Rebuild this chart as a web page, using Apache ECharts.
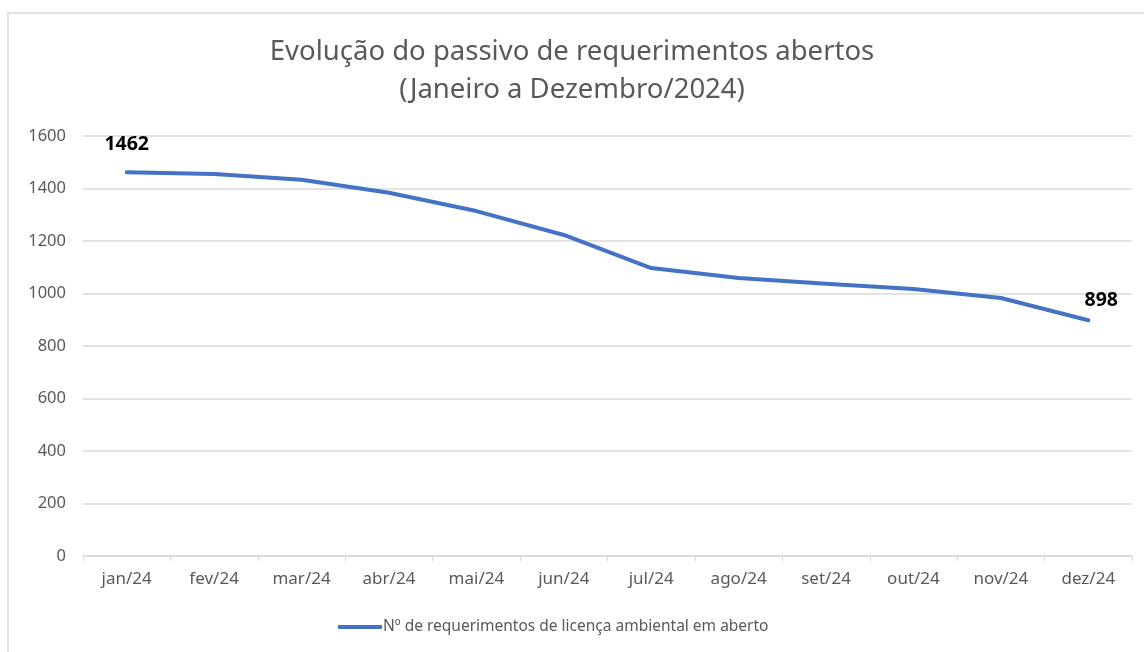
<!DOCTYPE html>
<html>
<head>
<meta charset="utf-8">
<script src="https://cdn.jsdelivr.net/npm/echarts@6/dist/echarts.min.js"></script>
<style>
  html, body { margin: 0; padding: 0; background: #fff; }
  #chart { width: 1144px; height: 652px; }
</style>
</head>
<body>
<div id="chart"></div>
<script>
  const meses = ['jan/24', 'fev/24', 'mar/24', 'abr/24', 'mai/24', 'jun/24', 'jul/24', 'ago/24', 'set/24', 'out/24', 'nov/24', 'dez/24']
  const requerimentos = [1462, 1455, 1433, 1384, 1314, 1223, 1097, 1059, 1037, 1017, 983, 898]
  const serieNome = 'Nº de requerimentos de licença ambiental em aberto'
  const yTicks = { min: 0, max: 1600, interval: 200 }

  const fonte = '"Noto Sans", "Open Sans", sans-serif'
  const ultimo = requerimentos.length - 1
  const azul = '#4472c4'

  // rótulo só no primeiro e no último mês
  const pontos = requerimentos.map((v, i) => ({
    value: v,
    label: {
      show: i === 0 || i === ultimo,
      offset: i === ultimo ? [13, 8] : [0, 0]
    }
  }))

  const chart = echarts.init(document.getElementById('chart'))
  const option = {
    backgroundColor: '#fff',
    graphic: [{
      type: 'rect',
      shape: { x: 8, y: 13, width: 1150, height: 660 },
      style: { fill: 'none', stroke: '#d9d9d9', lineWidth: 1.5 },
      silent: true
    }],
    title: {
      text: 'Evolução do passivo de requerimentos abertos\n(Janeiro a Dezembro/2024)',
      left: 'center',
      top: 28,
      textStyle: {
        fontFamily: fonte,
        fontWeight: 'normal',
        fontSize: 27.5,
        lineHeight: 38,
        color: '#595959'
      }
    },
    legend: {
      bottom: 12,
      left: 333,
      itemWidth: 44,
      itemHeight: 4,
      itemGap: 0,
      icon: 'roundRect',
      data: [serieNome],
      itemStyle: { color: azul },
      textStyle: { fontFamily: fonte, fontSize: 15.5, color: '#595959', padding: [0, 0, 0, -4] }
    },
    grid: {
      left: 83,
      right: 12,
      top: 136,
      bottom: 96
    },
    xAxis: {
      type: 'category',
      data: meses,
      boundaryGap: true,
      axisLine: { lineStyle: { color: '#d9d9d9', width: 1.5 } },
      axisTick: { show: true, length: 5, lineStyle: { color: '#d9d9d9' } },
      axisLabel: { fontFamily: fonte, fontSize: 17, color: '#595959', margin: 15 }
    },
    yAxis: {
      type: 'value',
      min: yTicks.min,
      max: yTicks.max,
      interval: yTicks.interval,
      axisLine: { show: false },
      axisTick: { show: false },
      axisLabel: { fontFamily: fonte, fontSize: 16.5, color: '#595959', margin: 17, formatter: (v) => String(v) },
      splitLine: { lineStyle: { color: '#d9d9d9', width: 1.5 } }
    },
    series: [{
      name: serieNome,
      type: 'line',
      data: pontos,
      symbol: 'circle',
      symbolSize: 1,
      showSymbol: true,
      showAllSymbol: true,
      lineStyle: { color: azul, width: 4, cap: 'round', join: 'round' },
      itemStyle: { color: azul },
      label: {
        position: 'top',
        distance: 17,
        fontFamily: fonte,
        fontSize: 19.5,
        fontWeight: 'bold',
        color: '#000'
      }
    }]
  }
  chart.setOption(option)
</script>
</body>
</html>
